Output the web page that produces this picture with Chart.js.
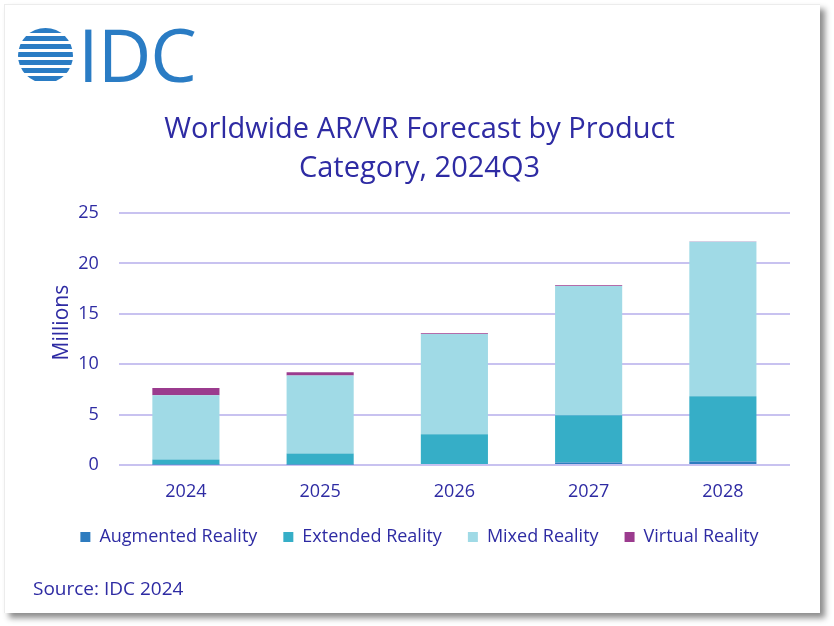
<!DOCTYPE html>
<html>
<head>
<meta charset="utf-8">
<script src="https://cdn.jsdelivr.net/npm/chart.js@4/dist/chart.umd.min.js"></script>
<style>
  html, body { margin:0; padding:0; background:#ffffff; width:834px; height:626px; overflow:hidden; font-family:"Open Sans", sans-serif; }
  #card { position:absolute; left:4px; top:4px; width:816px; height:609px; background:#fff; border-top:1px solid #ececec; border-left:1px solid #ececec; box-shadow:5px 5px 6px rgba(0,0,0,0.45); box-sizing:border-box; }
  #chart { position:absolute; left:0; top:0; }
  #logo { position:absolute; left:17px; top:8px; height:90px; }
  #globe { position:absolute; left:1px; top:20px; width:55px; height:55px; border-radius:50%;
    background: repeating-linear-gradient(to bottom, #2a7cc4 0px, #2a7cc4 5px, transparent 5px, transparent 8px); }
  #idc { position:absolute; left:61px; top:1px; font-family:"Open Sans", sans-serif; font-size:74px; font-weight:500; line-height:90px; color:#2a7cc4; letter-spacing:-1px; }
  #source { position:absolute; left:33px; top:576px; font-size:19px; line-height:24px; color:#2e2ba3; }
</style>
</head>
<body>
<div id="card"></div>
<canvas id="chart" width="834" height="626"></canvas>
<div id="logo"><div id="globe"></div><div id="idc">IDC</div></div>
<div id="source">Source: IDC 2024</div>
<script>
const categories = ["2024", "2025", "2026", "2027", "2028"];
const augmentedReality = [0.05, 0.05, 0.10, 0.25, 0.35];
const extendedReality  = [0.50, 1.10, 2.95, 4.68, 6.47];
const mixedReality     = [6.36, 7.74, 9.95, 12.82, 15.33];
const virtualReality   = [0.72, 0.30, 0.08, 0.08, 0.02];
const seriesNames = ["Augmented Reality", "Extended Reality", "Mixed Reality", "Virtual Reality"];
const yTicks = [0, 5, 10, 15, 20, 25];

const textColor = "#2e2ba3";
const colors = ["#2e7cbf", "#36aec7", "#a0dae6", "#9b3b8e"];
const seriesData = [augmentedReality, extendedReality, mixedReality, virtualReality];

new Chart(document.getElementById("chart"), {
  type: "bar",
  data: {
    labels: categories,
    datasets: seriesNames.map((n, i) => ({
      label: n,
      data: seriesData[i],
      backgroundColor: colors[i],
      borderWidth: 0,
      categoryPercentage: 1.0,
      barPercentage: 0.5
    }))
  },
  options: {
    responsive: false,
    animation: false,
    devicePixelRatio: 1,
    layout: { padding: { top: 110, left: 49, right: 44, bottom: 70 } },
    plugins: {
      title: {
        display: true,
        text: ["Worldwide AR/VR Forecast by Product", "Category, 2024Q3"],
        color: textColor,
        font: { family: "Open Sans", size: 29, weight: "normal", lineHeight: 1.345 },
        padding: { top: 0, bottom: 25 }
      },
      legend: {
        position: "bottom",
        labels: {
          color: textColor,
          font: { family: "Open Sans", size: 18 },
          boxWidth: 10,
          boxHeight: 10,
          padding: 26
        }
      },
      tooltip: { enabled: false }
    },
    scales: {
      x: {
        stacked: true,
        grid: { display: false, drawTicks: false },
        border: { display: false },
        ticks: { color: textColor, font: { family: "Open Sans", size: 18 }, padding: 16 },
        afterFit: (axis) => { axis.height = 37; }
      },
      y: {
        stacked: true,
        min: 0,
        max: 25,
        ticks: { stepSize: 5, color: textColor, font: { family: "Open Sans", size: 18 }, padding: 20 },
        afterBuildTicks: (axis) => { axis.ticks = yTicks.map(v => ({ value: v })); },
        grid: { color: "#c8c2f0", lineWidth: 2, drawTicks: false },
        border: { display: false },
        title: {
          display: true,
          text: "      Millions",
          color: textColor,
          font: { family: "Open Sans", size: 21 },
          padding: { top: 0, bottom: -16 }
        }
      }
    }
  }
});
</script>
</body>
</html>
